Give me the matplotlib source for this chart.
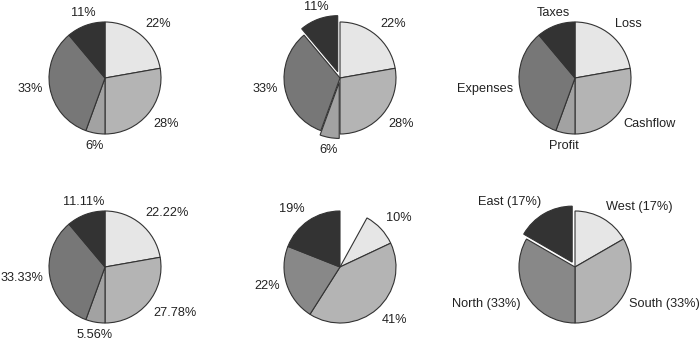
import math
import matplotlib
matplotlib.use("Agg")
import matplotlib.pyplot as plt

plt.rcParams["font.family"] = ["Liberation Sans", "DejaVu Sans"]
plt.rcParams["font.size"] = 9.2

# Shared dataset (first four pies)
items = ["Loss", "Cashflow", "Profit", "Expenses", "Taxes"]
amounts = [4, 5, 1, 6, 2]
gray5 = ["#e6e6e6", "#b4b4b4", "#a2a2a2", "#777777", "#333333"]

# Partial pie: fractions that do not add up to one
fractions = [0.10, 0.41, 0.22, 0.19]
gray4 = ["#e6e6e6", "#b4b4b4", "#888888", "#333333"]

# Regions
regions = ["West", "South", "North", "East"]
region_values = [1, 2, 2, 1]

W, H = 700, 343
R = 56          # pie radius in pixels
BOX = 120       # axes side in pixels
col_x = [105, 340, 575]
row_y = [H - 78, H - 267]

fig = plt.figure(figsize=(W / 100, H / 100), dpi=100)


def make_ax(col, row):
    cx, cy = col_x[col], row_y[row]
    ax = fig.add_axes([(cx - BOX / 2) / W, (cy - BOX / 2) / H, BOX / W, BOX / H])
    return ax


def finish(ax):
    lim = (BOX / 2) / R
    ax.set_xlim(-lim, lim)
    ax.set_ylim(-lim, lim)
    ax.set_aspect("equal")
    ax.axis("off")


def align(texts, wedges):
    for t, w in zip(texts, wedges):
        th = math.radians((w.theta1 + w.theta2) / 2)
        c, s = math.cos(th), math.sin(th)
        ha = "left" if c > 0.42 else ("right" if c < -0.42 else "center")
        va = "bottom" if s > 0.42 else ("top" if s < -0.42 else "center")
        t.set_ha(ha)
        t.set_va(va)
        t.set_color("#222222")


wprops = dict(edgecolor="#333333", linewidth=0.8)
DIST = 1.12

# 1: rounded percentages
ax = make_ax(0, 0)
w, _, pt = ax.pie(amounts, colors=gray5, startangle=90, counterclock=False,
                  autopct="%.0f%%", pctdistance=DIST, wedgeprops=wprops)
align(pt, w)
finish(ax)

# 2: two slices pulled out
ax = make_ax(1, 0)
pull = [0, 0, 0.08, 0, 0.12]
w, _, pt = ax.pie(amounts, colors=gray5, startangle=90, counterclock=False,
                  explode=pull, autopct="%.0f%%", pctdistance=DIST,
                  wedgeprops=wprops)
align(pt, w)
finish(ax)

# 3: category names
ax = make_ax(2, 0)
w, lt = ax.pie(amounts, colors=gray5, startangle=90, counterclock=False,
               labels=items, labeldistance=DIST, wedgeprops=wprops)
align(lt, w)
finish(ax)

# 4: two-decimal percentages
ax = make_ax(0, 1)
w, _, pt = ax.pie(amounts, colors=gray5, startangle=90, counterclock=False,
                  autopct="%.2f%%", pctdistance=DIST, wedgeprops=wprops)
align(pt, w)
finish(ax)

# 5: partial pie, the missing share left open before the first slice
ax = make_ax(1, 1)
start = 90 - (1 - sum(fractions)) * 360
w, _, pt = ax.pie(fractions, colors=gray4, startangle=start, counterclock=False,
                  normalize=False, autopct="%.0f%%", pctdistance=DIST,
                  wedgeprops=wprops)
align(pt, w)
finish(ax)

# 6: named regions with their shares, East pulled out
ax = make_ax(2, 1)
tot = sum(region_values)
region_labels = [f"{n} ({round(100 * v / tot)}%)" for n, v in zip(regions, region_values)]
w, lt = ax.pie(region_values, colors=gray4, startangle=90, counterclock=False,
               explode=[0, 0, 0, 0.1], labels=region_labels, labeldistance=DIST,
               wedgeprops=wprops)
align(lt, w)
finish(ax)

fig.savefig("out.png", dpi=100)
